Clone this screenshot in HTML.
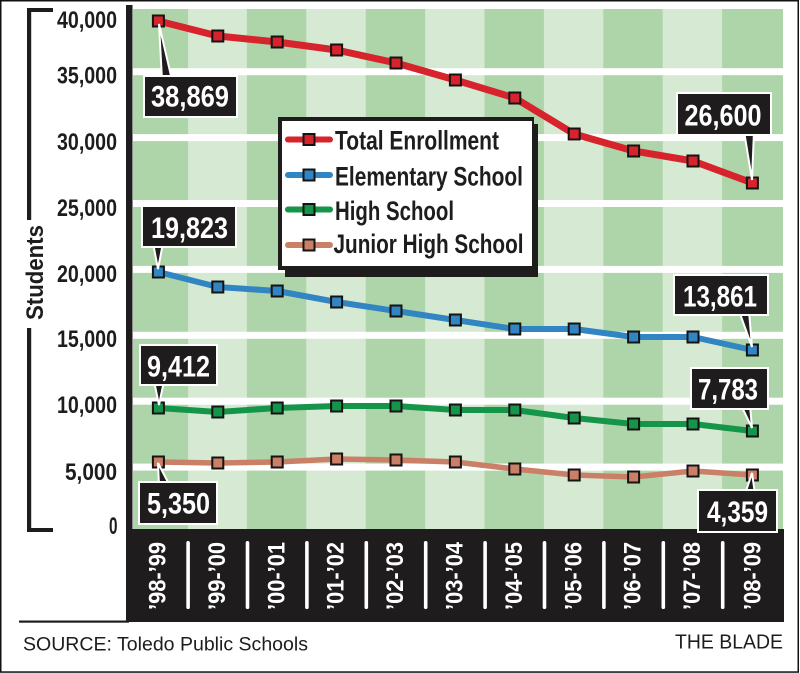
<!DOCTYPE html>
<html>
<head>
<meta charset="utf-8">
<style>
  html,body{margin:0;padding:0;background:#fff;}
  svg{display:block;}
  text{font-family:"Liberation Sans Narrow","Liberation Sans",Arial,sans-serif;}
</style>
</head>
<body>
<svg width="800" height="673" viewBox="0 0 800 673" xmlns="http://www.w3.org/2000/svg">
  <rect x="0" y="0" width="800" height="673" fill="#fff"/>
  <!-- outer border -->
  <rect x="0.75" y="0.75" width="797.5" height="671.3" fill="none" stroke="#111" stroke-width="1.5"/>

  <!-- plot background -->
  <rect x="133" y="9" width="650" height="520" fill="#d6eAd3"/>
  <g fill="#aed5a9">
    <rect x="133" y="9" width="55.1" height="520"/>
    <rect x="246.9" y="9" width="59.4" height="520"/>
    <rect x="365.7" y="9" width="59.4" height="520"/>
    <rect x="484.5" y="9" width="59.4" height="520"/>
    <rect x="603.3" y="9" width="59.4" height="520"/>
    <rect x="722.1" y="9" width="60.9" height="520"/>
  </g>
  <!-- white gridlines -->
  <g fill="#fff">
    <rect x="133" y="68.2" width="650" height="7"/>
    <rect x="133" y="134.1" width="650" height="7"/>
    <rect x="133" y="200" width="650" height="7"/>
    <rect x="133" y="265.9" width="650" height="7"/>
    <rect x="133" y="331.8" width="650" height="7"/>
    <rect x="133" y="397.7" width="650" height="7"/>
    <rect x="133" y="463.6" width="650" height="7"/>
  </g>

  <!-- y axis bar -->
  <rect x="126" y="5" width="6.5" height="525" fill="#1e1c1c"/>
  <!-- x axis band -->
  <rect x="126" y="529" width="658" height="93" fill="#1e1c1c"/>
  <!-- bottom rule -->
  <rect x="19" y="620.5" width="110" height="2.2" fill="#1e1c1c"/>

  <!-- Students bracket -->
  <g fill="#1e1c1c">
    <rect x="27" y="8" width="26" height="4"/>
    <rect x="27" y="8" width="4.2" height="212"/>
    <rect x="27" y="328" width="4.2" height="204"/>
    <rect x="27" y="528" width="26" height="4"/>
  </g>
  <text transform="translate(43,272.5) rotate(-90)" text-anchor="middle" font-size="24" font-weight="bold" fill="#1e1c1c" textLength="95" lengthAdjust="spacingAndGlyphs">Students</text>

  <!-- y tick labels -->
  <g font-size="24" font-weight="bold" fill="#1e1c1c" text-anchor="end">
    <text x="117" y="28" textLength="60" lengthAdjust="spacingAndGlyphs">40,000</text>
    <text x="117" y="83.5" textLength="60" lengthAdjust="spacingAndGlyphs">35,000</text>
    <text x="117" y="150" textLength="60" lengthAdjust="spacingAndGlyphs">30,000</text>
    <text x="117" y="216" textLength="60" lengthAdjust="spacingAndGlyphs">25,000</text>
    <text x="117" y="282" textLength="60" lengthAdjust="spacingAndGlyphs">20,000</text>
    <text x="117" y="347" textLength="60" lengthAdjust="spacingAndGlyphs">15,000</text>
    <text x="117" y="413" textLength="60" lengthAdjust="spacingAndGlyphs">10,000</text>
    <text x="117" y="480" textLength="52" lengthAdjust="spacingAndGlyphs">5,000</text>
    <text x="117.5" y="534" textLength="8.5" lengthAdjust="spacingAndGlyphs">0</text>
  </g>

  <!-- x band separators -->
  <g fill="#fff">
    <rect x="186.3" y="541" width="3.6" height="68" rx="1.8"/>
    <rect x="245.7" y="541" width="3.6" height="68" rx="1.8"/>
    <rect x="305.1" y="541" width="3.6" height="68" rx="1.8"/>
    <rect x="364.5" y="541" width="3.6" height="68" rx="1.8"/>
    <rect x="423.9" y="541" width="3.6" height="68" rx="1.8"/>
    <rect x="483.3" y="541" width="3.6" height="68" rx="1.8"/>
    <rect x="542.7" y="541" width="3.6" height="68" rx="1.8"/>
    <rect x="602.1" y="541" width="3.6" height="68" rx="1.8"/>
    <rect x="661.5" y="541" width="3.6" height="68" rx="1.8"/>
    <rect x="720.9" y="541" width="3.6" height="68" rx="1.8"/>
  </g>
  <!-- x tick labels -->
  <g font-size="24" font-weight="bold" fill="#fff" text-anchor="middle">
    <text transform="translate(165.5,576) rotate(-90)" textLength="68" lengthAdjust="spacingAndGlyphs">’98-’99</text>
    <text transform="translate(224.9,576) rotate(-90)" textLength="68" lengthAdjust="spacingAndGlyphs">’99-’00</text>
    <text transform="translate(284.3,576) rotate(-90)" textLength="68" lengthAdjust="spacingAndGlyphs">’00-’01</text>
    <text transform="translate(343.7,576) rotate(-90)" textLength="68" lengthAdjust="spacingAndGlyphs">’01-’02</text>
    <text transform="translate(403.1,576) rotate(-90)" textLength="68" lengthAdjust="spacingAndGlyphs">’02-’03</text>
    <text transform="translate(462.5,576) rotate(-90)" textLength="68" lengthAdjust="spacingAndGlyphs">’03-’04</text>
    <text transform="translate(521.9,576) rotate(-90)" textLength="68" lengthAdjust="spacingAndGlyphs">’04-’05</text>
    <text transform="translate(581.3,576) rotate(-90)" textLength="68" lengthAdjust="spacingAndGlyphs">’05-’06</text>
    <text transform="translate(640.7,576) rotate(-90)" textLength="68" lengthAdjust="spacingAndGlyphs">’06-’07</text>
    <text transform="translate(700.1,576) rotate(-90)" textLength="68" lengthAdjust="spacingAndGlyphs">’07-’08</text>
    <text transform="translate(760.5,576) rotate(-90)" textLength="68" lengthAdjust="spacingAndGlyphs">’08-’09</text>
  </g>

  <!-- series lines -->
  <g fill="none" stroke-linejoin="round" stroke-linecap="round">
    <polyline stroke="#d7232b" stroke-width="7" points="158.4,21 217.8,36 277.2,42 336.6,50 396,63 455.4,80 514.8,98 574.2,134 633.6,151 693,161 752.4,183"/>
    <polyline stroke="#3185c2" stroke-width="6" points="158.4,272 217.8,287 277.2,291 336.6,302 396,311 455.4,320 514.8,329 574.2,329 633.6,337 693,337 752.4,350"/>
    <polyline stroke="#15954a" stroke-width="6" points="158.4,408 217.8,412 277.2,408 336.6,406 396,406 455.4,410 514.8,410 574.2,418 633.6,424 693,424 752.4,431"/>
    <polyline stroke="#c98067" stroke-width="5.5" points="158.4,462 217.8,463 277.2,462 336.6,459 396,460 455.4,462 514.8,469 574.2,475 633.6,477 693,471 752.4,475"/>
  </g>

  <!-- markers -->
  <g stroke="#151313" stroke-width="2">
    <g fill="#d7232b">
      <rect x="152.9" y="15.5" width="11" height="11"/><rect x="212.3" y="30.5" width="11" height="11"/><rect x="271.7" y="36.5" width="11" height="11"/><rect x="331.1" y="44.5" width="11" height="11"/><rect x="390.5" y="57.5" width="11" height="11"/><rect x="449.9" y="74.5" width="11" height="11"/><rect x="509.3" y="92.5" width="11" height="11"/><rect x="568.7" y="128.5" width="11" height="11"/><rect x="628.1" y="145.5" width="11" height="11"/><rect x="687.5" y="155.5" width="11" height="11"/><rect x="746.9" y="177.5" width="11" height="11"/>
    </g>
    <g fill="#3185c2">
      <rect x="152.9" y="266.5" width="11" height="11"/><rect x="212.3" y="281.5" width="11" height="11"/><rect x="271.7" y="285.5" width="11" height="11"/><rect x="331.1" y="296.5" width="11" height="11"/><rect x="390.5" y="305.5" width="11" height="11"/><rect x="449.9" y="314.5" width="11" height="11"/><rect x="509.3" y="323.5" width="11" height="11"/><rect x="568.7" y="323.5" width="11" height="11"/><rect x="628.1" y="331.5" width="11" height="11"/><rect x="687.5" y="331.5" width="11" height="11"/><rect x="746.9" y="344.5" width="11" height="11"/>
    </g>
    <g fill="#15954a">
      <rect x="152.9" y="402.5" width="11" height="11"/><rect x="212.3" y="406.5" width="11" height="11"/><rect x="271.7" y="402.5" width="11" height="11"/><rect x="331.1" y="400.5" width="11" height="11"/><rect x="390.5" y="400.5" width="11" height="11"/><rect x="449.9" y="404.5" width="11" height="11"/><rect x="509.3" y="404.5" width="11" height="11"/><rect x="568.7" y="412.5" width="11" height="11"/><rect x="628.1" y="418.5" width="11" height="11"/><rect x="687.5" y="418.5" width="11" height="11"/><rect x="746.9" y="425.5" width="11" height="11"/>
    </g>
    <g fill="#c98067">
      <rect x="152.9" y="456.5" width="11" height="11"/><rect x="212.3" y="457.5" width="11" height="11"/><rect x="271.7" y="456.5" width="11" height="11"/><rect x="331.1" y="453.5" width="11" height="11"/><rect x="390.5" y="454.5" width="11" height="11"/><rect x="449.9" y="456.5" width="11" height="11"/><rect x="509.3" y="463.5" width="11" height="11"/><rect x="568.7" y="469.5" width="11" height="11"/><rect x="628.1" y="471.5" width="11" height="11"/><rect x="687.5" y="465.5" width="11" height="11"/><rect x="746.9" y="469.5" width="11" height="11"/>
    </g>
  </g>

  <!-- callouts -->
  <g fill="#1e1c1c" stroke="#fff" stroke-width="2" stroke-linejoin="miter">
    <polygon points="159,24 162,80 172,80"/>
    <polygon points="752,180 744,131 754,131"/>
    <polygon points="158,269 153,243 163,243"/>
    <polygon points="752,347 739,311 749,311"/>
    <polygon points="159,405 154,381 164,381"/>
    <polygon points="752,428 741,405 750,405"/>
    <polygon points="158,463 159,486 170,486"/>
    <polygon points="752,473 745,494 755,494"/>

    <rect x="144" y="76" width="93" height="41"/>
    <rect x="677" y="93" width="94" height="42"/>
    <rect x="142" y="206" width="94" height="41"/>
    <rect x="674" y="275" width="94" height="40"/>
    <rect x="140" y="345" width="77" height="40"/>
    <rect x="691" y="368" width="77" height="41"/>
    <rect x="139" y="482" width="78" height="42"/>
    <rect x="698" y="490" width="79" height="42"/>
  </g>
  <!-- re-cover pointer bases inside boxes -->
  <g fill="#1e1c1c">
    <rect x="163" y="77" width="9" height="4"/>
    <rect x="745" y="130" width="9" height="4"/>
    <rect x="154" y="242" width="9" height="4"/>
    <rect x="740" y="310" width="9" height="4"/>
    <rect x="155" y="380" width="9" height="4"/>
    <rect x="742" y="404" width="8" height="4"/>
    <rect x="160" y="483" width="9" height="4"/>
    <rect x="746" y="491" width="9" height="4"/>
  </g>
  <g font-size="30" font-weight="bold" fill="#fff" text-anchor="middle">
    <text x="190" y="106.5" textLength="78" lengthAdjust="spacingAndGlyphs">38,869</text>
    <text x="723" y="125.5" textLength="77" lengthAdjust="spacingAndGlyphs">26,600</text>
    <text x="189.5" y="238" textLength="77" lengthAdjust="spacingAndGlyphs">19,823</text>
    <text x="720" y="306.5" textLength="74" lengthAdjust="spacingAndGlyphs">13,861</text>
    <text x="178.5" y="376.5" textLength="63" lengthAdjust="spacingAndGlyphs">9,412</text>
    <text x="728" y="399.5" textLength="60" lengthAdjust="spacingAndGlyphs">7,783</text>
    <text x="178.5" y="513.5" textLength="63" lengthAdjust="spacingAndGlyphs">5,350</text>
    <text x="737.5" y="522" textLength="61" lengthAdjust="spacingAndGlyphs">4,359</text>
  </g>

  <!-- legend -->
  <rect x="285" y="124" width="253" height="153" fill="#1e1c1c"/>
  <rect x="278" y="117" width="256" height="153" fill="#1e1c1c"/>
  <rect x="282" y="121" width="250" height="145" fill="#fff"/>
  <g stroke-linecap="round" fill="none">
    <line x1="288" y1="139.5" x2="330" y2="139.5" stroke="#d7232b" stroke-width="6"/>
    <line x1="288" y1="175" x2="330" y2="175" stroke="#3185c2" stroke-width="6"/>
    <line x1="288" y1="209.5" x2="330" y2="209.5" stroke="#15954a" stroke-width="6"/>
    <line x1="288" y1="245" x2="330" y2="245" stroke="#c98067" stroke-width="6"/>
  </g>
  <g stroke="#151313" stroke-width="2">
    <rect x="303.5" y="134" width="11" height="11" fill="#d7232b"/>
    <rect x="303.5" y="169.5" width="11" height="11" fill="#3185c2"/>
    <rect x="303.5" y="204" width="11" height="11" fill="#15954a"/>
    <rect x="303.5" y="239.5" width="11" height="11" fill="#c98067"/>
  </g>
  <g font-size="27" font-weight="bold" fill="#1e1c1c">
    <text x="335" y="149.5" textLength="164" lengthAdjust="spacingAndGlyphs">Total Enrollment</text>
    <text x="335" y="185.5" textLength="188" lengthAdjust="spacingAndGlyphs">Elementary School</text>
    <text x="335" y="220" textLength="119" lengthAdjust="spacingAndGlyphs">High School</text>
    <text x="333.5" y="253" textLength="190" lengthAdjust="spacingAndGlyphs">Junior High School</text>
  </g>

  <!-- footer -->
  <text x="23" y="650.5" font-size="19" fill="#1e1c1c" textLength="285" lengthAdjust="spacingAndGlyphs" style="font-family:'Liberation Sans',Arial,sans-serif">SOURCE: Toledo Public Schools</text>
  <text x="783" y="648.3" font-size="20.5" fill="#1e1c1c" text-anchor="end" textLength="108" lengthAdjust="spacingAndGlyphs" style="font-family:'Liberation Sans',Arial,sans-serif">THE BLADE</text>
</svg>
</body>
</html>
